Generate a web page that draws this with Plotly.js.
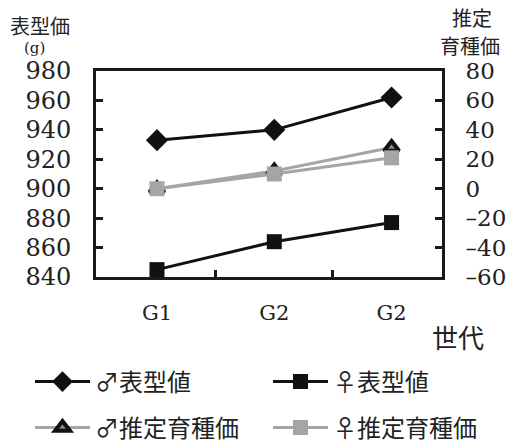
<!DOCTYPE html>
<html>
<head>
<meta charset="utf-8">
<script src="https://cdn.plot.ly/plotly-3.0.1.min.js"></script>
<style>html,body{margin:0;padding:0;background:#fff;}#chart{width:510px;height:443px;}</style>
</head>
<body>
<div id="chart"></div>
<script>
const categories = ["G1", "G2", "G2"];
const malePhenotype = [933, 940, 962];
const femalePhenotype = [845, 864, 877];
const maleBreeding = [0, 12, 28];
const femaleBreeding = [0, 10, 21];
const leftTicks = [840, 860, 880, 900, 920, 940, 960, 980];
const rightTicks = [-60, -40, -20, 0, 20, 40, 60, 80];
const rightTickText = ["\u201360", "\u201340", "\u201320", "0", "20", "40", "60", "80"];

const xpos = categories.map((c, i) => i);
const serif = "DejaVu Serif";
const jp = "Noto Sans CJK JP";

const traces = [
  {x: xpos, y: malePhenotype, name: "♂表型値", type: "scatter", mode: "lines+markers",
   line: {color: "#111", width: 3}, marker: {symbol: "diamond", size: 17, color: "#111"}, legend: "legend"},
  {x: xpos, y: femalePhenotype, name: "♀表型値", type: "scatter", mode: "lines+markers",
   line: {color: "#111", width: 3}, marker: {symbol: "square", size: 15, color: "#111"}, legend: "legend2"},
  {x: xpos, y: maleBreeding, name: "♂推定育種価", type: "scatter", mode: "lines+markers", yaxis: "y2",
   line: {color: "#a5a5a5", width: 3}, marker: {symbol: "triangle-up", size: 13, color: "#888", line: {color: "#111", width: 4}}, legend: "legend3"},
  {x: xpos, y: femaleBreeding, name: "♀推定育種価", type: "scatter", mode: "lines+markers", yaxis: "y2",
   line: {color: "#a5a5a5", width: 3}, marker: {symbol: "square", size: 15, color: "#a5a5a5"}, legend: "legend4"}
];

const L = 96, R = 442, T = 71, B = 277;
const px = v => (v - L) / (R - L);
const py = v => (B - v) / (B - T);

function leg(xp, yp) {
  return {
    orientation: "h", x: px(xp), y: py(yp), xanchor: "left", yanchor: "middle",
    font: {family: jp, size: 24, color: "#222"}, itemwidth: 55,
    bgcolor: "rgba(0,0,0,0)", borderwidth: 0
  };
}

function ann(text, x, y, size, family) {
  return {text: text, xref: "paper", yref: "paper", x: px(x), y: py(y), xanchor: "center", yanchor: "middle",
          showarrow: false, font: {family: family, size: size, color: "#222"}};
}

const layout = {
  width: 510, height: 443,
  margin: {l: L, r: 510 - R, t: T, b: 443 - B, autoexpand: false},
  paper_bgcolor: "#fff", plot_bgcolor: "#fff",
  showlegend: true,
  xaxis: {
    range: [-0.52, 2.43], tickmode: "array", tickvals: xpos, ticktext: categories,
    ticks: "", showgrid: false, zeroline: false,
    showline: true, linecolor: "#1a1a1a", linewidth: 3, mirror: true,
    tickfont: {family: serif, size: 21, color: "#222"},
    ticklabelstandoff: 15,
    minor: {tickmode: "array", tickvals: [0.5, 1.5], ticks: "inside", ticklen: 7, tickwidth: 3, tickcolor: "#1a1a1a", showgrid: false}
  },
  yaxis: {
    range: [840, 980], tickmode: "array", tickvals: leftTicks,
    ticks: "inside", ticklen: 7, tickwidth: 3, tickcolor: "#1a1a1a",
    showgrid: false, zeroline: false,
    showline: true, linecolor: "#1a1a1a", linewidth: 3,
    tickfont: {family: serif, size: 24, color: "#222"}, ticklabelstandoff: 17
  },
  yaxis2: {
    range: [-60, 80], overlaying: "y", side: "right", tickmode: "array", tickvals: rightTicks, ticktext: rightTickText,
    ticks: "inside", ticklen: 7, tickwidth: 3, tickcolor: "#1a1a1a",
    showgrid: false, zeroline: false,
    showline: true, linecolor: "#1a1a1a", linewidth: 3,
    tickfont: {family: serif, size: 23, color: "#222"}, ticklabelstandoff: 16
  },
  legend: leg(30, 382),
  legend2: leg(268, 382),
  legend3: leg(30, 428),
  legend4: leg(268, 428),
  annotations: [
    ann("表型価", 40, 25, 20, jp),
    ann("(g)", 34, 48, 15, serif),
    ann("推定", 472, 18, 20, jp),
    ann("育種価", 470, 45, 20, jp),
    ann("世代", 458, 336, 26, jp)
  ]
};

Plotly.newPlot("chart", traces, layout, {displayModeBar: false, staticPlot: true});
</script>
</body>
</html>
